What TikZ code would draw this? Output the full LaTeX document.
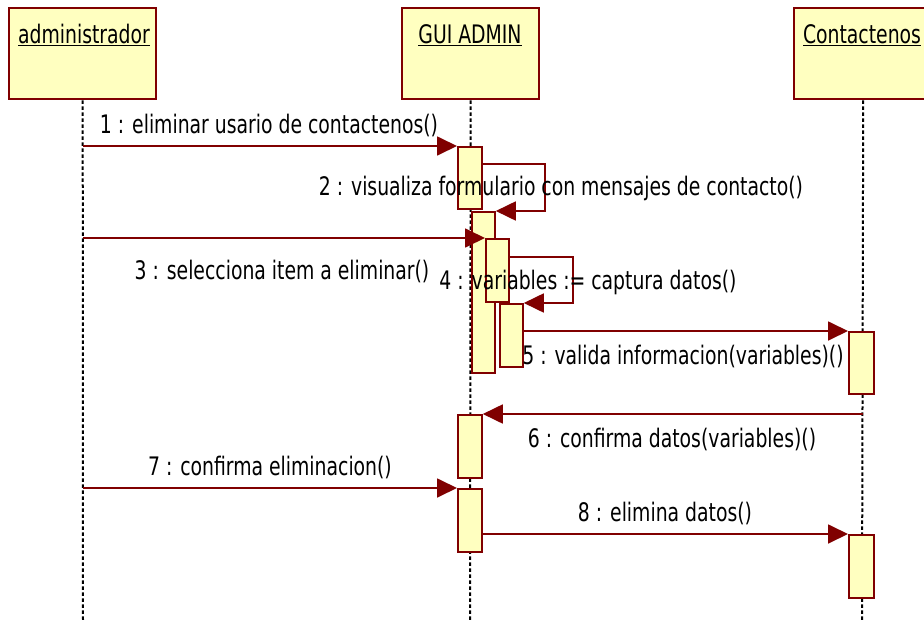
\documentclass[tikz,border=0pt]{standalone}
\usepackage{fontspec}
\usepackage{graphicx}
\setmainfont{DejaVu Sans Condensed}
\usetikzlibrary{arrows.meta}
\definecolor{umlred}{RGB}{128,0,0}
\definecolor{umlfill}{RGB}{255,255,192}
\newcommand{\narrowtxt}[1]{\scalebox{0.82}[1]{#1}}
\tikzset{
  actorbox/.style={draw=umlred, fill=umlfill, line width=2.4pt, anchor=north west, inner sep=0pt, minimum height=91pt},
  actbar/.style={draw=umlred, fill=umlfill, line width=1.8pt, anchor=north west, inner sep=0pt, minimum width=24pt},
  lifeline/.style={line width=2pt, dash pattern=on 3.5pt off 2.5pt},
  msg/.style={draw=umlred, line width=1.8pt, -{Triangle[length=20pt,width=19pt]}},
  lbl/.style={font=\fontsize{25.5}{29}\selectfont, inner sep=0pt}
}
\begin{document}
\begin{tikzpicture}[x=1pt,y=-1pt]
\useasboundingbox (0,0) rectangle (924,621);
% actor boxes
\node[actorbox, minimum width=147pt] (adm) at (8,7) {};
\node[actorbox, minimum width=137pt] (gui) at (401,7) {};
\node[actorbox, minimum width=138pt] (con) at (793,7) {};
\node[lbl] (admT) at (84,35) {\narrowtxt{\underline{administrador}}};
\node[lbl] (guiT) at (470,35) {\narrowtxt{\underline{GUI ADMIN}}};
\node[lbl] (conT) at (862,35) {\narrowtxt{\underline{Contactenos}}};
% lifelines
\coordinate (admE) at (83,621);
\coordinate (guiE) at (470,621);
\coordinate (conE) at (862,621);
\draw[lifeline] (adm.south) -- (admE);
\draw[lifeline] (gui.south) -- (guiE);
\draw[lifeline] (con.south) -- (conE);
% activation bars
\node[actbar, minimum height=62pt] (A1) at (457,146) {};
\node[actbar, minimum height=161pt, minimum width=23pt] (A2) at (471,211) {};
\node[actbar, minimum height=63pt, minimum width=23pt] (A3) at (485,238) {};
\node[actbar, minimum height=63pt, minimum width=23pt] (A4) at (499,303) {};
\node[actbar, minimum height=62pt, minimum width=25pt] (B1) at (848,331) {};
\node[actbar, minimum height=63pt] (A5) at (457,414) {};
\node[actbar, minimum height=63pt] (A6) at (457,488) {};
\node[actbar, minimum height=63pt, minimum width=25pt] (B2) at (848,534) {};
% messages
\draw[msg] (adm.south |- A1.north west) -- (A1.north west);
\draw[msg] ([yshift=-18pt]A1.north east) -- ++(62,0) |- (A2.north east);
\draw[msg] (adm.south |- A3.north west) -- (A3.north west);
\draw[msg] ([yshift=-19pt]A3.north east) -- ++(63,0) |- (A4.north east);
\draw[msg] (A4.east |- B1.north west) -- (B1.north west);
\draw[msg] (con.south |- A5.north east) -- (A5.north east);
\draw[msg] (adm.south |- A6.north west) -- (A6.north west);
\draw[msg] (A6.east |- B2.north west) -- (B2.north west);
% labels
\node[lbl] (m1) at (269,125) {\narrowtxt{1 : eliminar usario de contactenos()}};
\node[lbl] (m2) at (561,188) {\narrowtxt{2 : visualiza formulario con mensajes de contacto()}};
\node[lbl] (m3) at (282,271) {\narrowtxt{3 : selecciona item a eliminar()}};
\node[lbl] (m4) at (588,282) {\narrowtxt{4 : variables := captura datos()}};
\node[lbl] (m5) at (683,356) {\narrowtxt{5 : valida informacion(variables)()}};
\node[lbl] (m6) at (672,439) {\narrowtxt{6 : confirma datos(variables)()}};
\node[lbl] (m7) at (270,467) {\narrowtxt{7 : confirma eliminacion()}};
\node[lbl] (m8) at (665,513) {\narrowtxt{8 : elimina datos()}};
\end{tikzpicture}
\end{document}
